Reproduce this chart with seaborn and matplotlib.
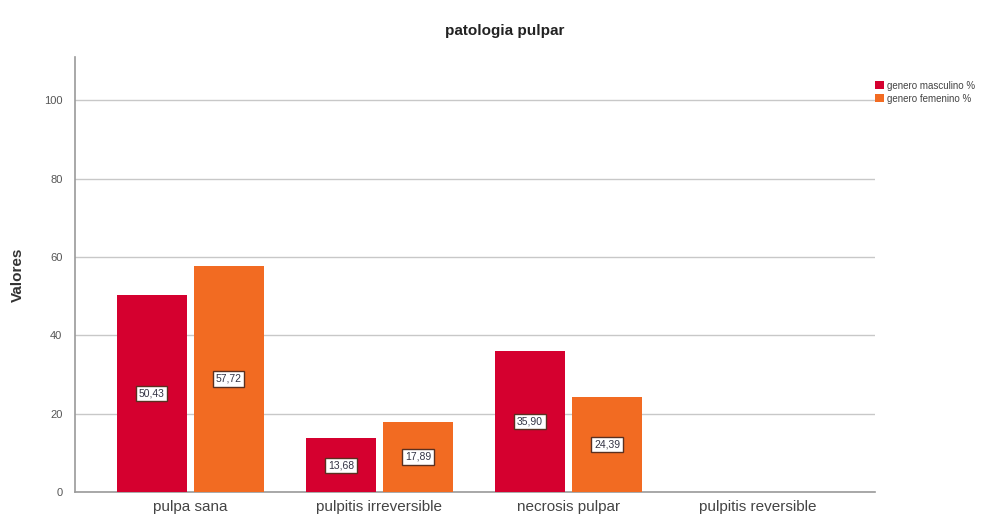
import matplotlib
matplotlib.use("Agg")
import matplotlib.pyplot as plt
import seaborn as sns
import pandas as pd

categories = ["pulpa sana", "pulpitis irreversible", "necrosis pulpar", "pulpitis reversible"]
series_names = ["genero masculino %", "genero femenino %"]
masculino = [50.43, 13.68, 35.90, 0.0]
femenino = [57.72, 17.89, 24.39, 0.0]
y_ticks = [0, 20, 40, 60, 80, 100]

colors = ["#D5002F", "#F26B22"]

df = pd.DataFrame({
    "categoria": categories * 2,
    "serie": [series_names[0]] * 4 + [series_names[1]] * 4,
    "valor": masculino + femenino,
})

sns.set_style("white")
plt.rcParams["font.family"] = ["Liberation Sans", "DejaVu Sans"]

fig = plt.figure(figsize=(10.08, 5.2), dpi=100)
ax = fig.add_axes([0.0744, 0.0538, 0.7936, 0.836])

sns.barplot(data=df, x="categoria", y="valor", hue="serie", order=categories,
            hue_order=series_names, palette=colors, width=0.815, gap=0.1,
            saturation=1, linewidth=0, ax=ax, zorder=3, legend=True)

ax.set_xlim(-0.61, 3.62)
ax.set_ylim(0, 111)
ax.set_yticks(y_ticks)
ax.yaxis.grid(True, color="#C8C8C8", linewidth=1, zorder=0)
ax.set_axisbelow(True)

for side in ["top", "right"]:
    ax.spines[side].set_visible(False)
for side in ["left", "bottom"]:
    ax.spines[side].set_color("#9A9A9A")
    ax.spines[side].set_linewidth(1.2)

ax.tick_params(axis="y", length=5, color="#9A9A9A", labelsize=8, labelcolor="#555555", pad=4)
ax.tick_params(axis="x", length=0, labelsize=11, labelcolor="#444444", pad=6)
ax.set_xlabel("")
ax.set_ylabel("Valores", fontsize=11, fontweight="bold", color="#333333", labelpad=14)

# value labels in boxes at bar mid-height
for container in ax.containers:
    for bar in container:
        h = bar.get_height()
        if h <= 0:
            continue
        ax.text(bar.get_x() + bar.get_width() / 2, h / 2,
                f"{h:.2f}".replace(".", ","), ha="center", va="center",
                fontsize=7.5, color="#333344", zorder=5,
                bbox=dict(boxstyle="square,pad=0.25", facecolor="white",
                          edgecolor="#5A3020", linewidth=1))

fig.text(0.501, 0.94, "patologia pulpar", ha="center", va="center",
         fontsize=11, fontweight="bold", color="#222222")

leg = ax.legend(loc="upper left", bbox_to_anchor=(0.995, 0.955), frameon=False,
                fontsize=7, handlelength=0.9, handleheight=0.9, handletextpad=0.4,
                labelspacing=0.3, borderaxespad=0)
for t in leg.get_texts():
    t.set_color("#444444")

fig.savefig("out.png", dpi=100)
